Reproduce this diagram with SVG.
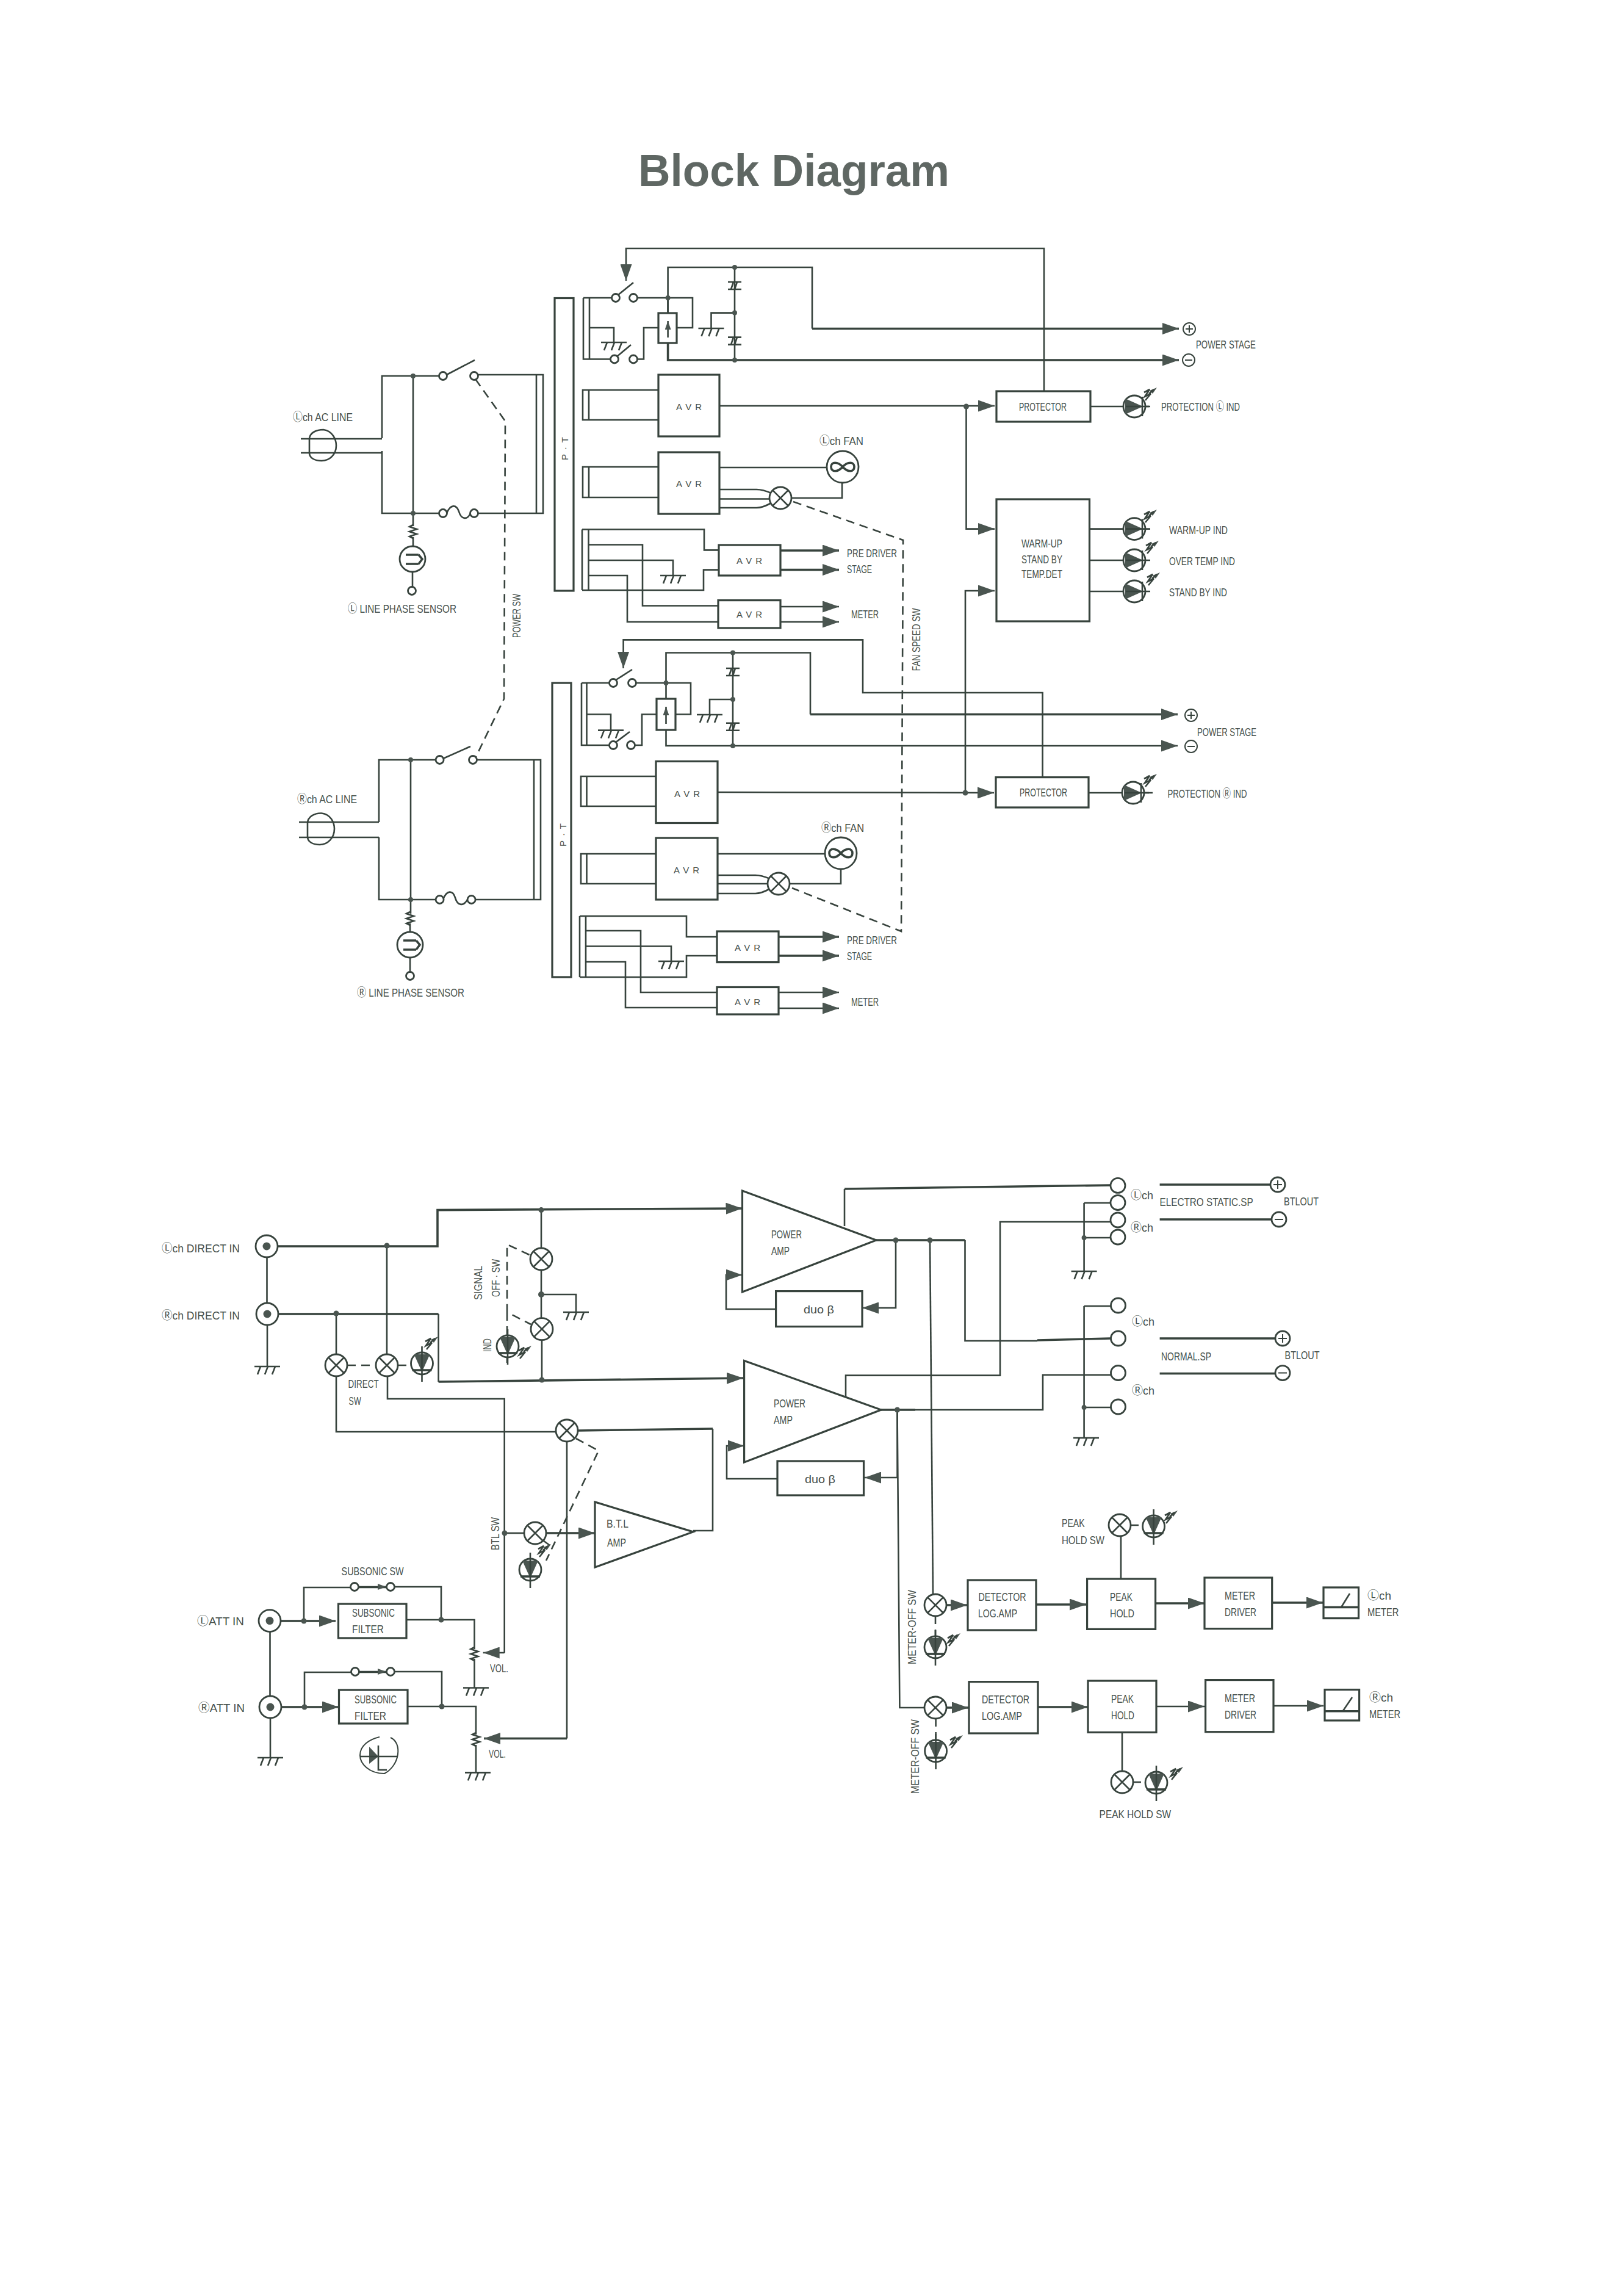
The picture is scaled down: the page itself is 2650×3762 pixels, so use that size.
<svg xmlns="http://www.w3.org/2000/svg" width="2650" height="3762" viewBox="0 0 2650 3762">
<style>
text{font-family:"Liberation Sans","Noto Sans CJK JP",sans-serif;font-size:19px;fill:#46504b;dominant-baseline:central}
.v{text-anchor:middle}
.sm{font-size:15px}
.title{font-size:75px;font-weight:bold;fill:#5f6763;dominant-baseline:auto}
.b{fill:#fff;stroke:#37433d;stroke-width:3.2}
.p{fill:none;stroke:#37433d;stroke-width:2.6}
.t{fill:none;stroke:#37433d;stroke-width:3.6}
.a{marker-end:url(#ah)}
.s{marker-end:url(#as)}
.d{fill:none;stroke:#37433d;stroke-width:2.6;stroke-dasharray:14 9}
.c{fill:#fff;stroke:#37433d;stroke-width:2.8}
.f{fill:#4a5550;stroke:none}
.j{fill:#4a5550}
</style>
<defs>
<marker id="ah" markerUnits="userSpaceOnUse" markerWidth="27" markerHeight="19" viewBox="0 0 27 19" refX="27" refY="9.5" orient="auto"><path d="M0 0L27 9.5L0 19Z" fill="#4a5550"/></marker>
<marker id="as" markerUnits="userSpaceOnUse" markerWidth="14" markerHeight="10" viewBox="0 0 14 10" refX="14" refY="5" orient="auto"><path d="M0 0L14 5L0 10Z" fill="#4a5550"/></marker>
<g id="gnd"><path class="p" d="M-21 0H21M-11 0L-16 13M1 0L-4 13M13 0L8 13"/></g>
<g id="lamp"><circle class="c" r="18"/><path class="p" d="M-12.500 -12.500L12.500 12.500M12.500 -12.500L-12.500 12.500"/></g>
<g id="zz"><path class="p" d="M0 -9L9 -14L1 -2L11 -7L2 4"/><path class="f" d="M21 -17L9 -12L14 -7Z"/><path class="p" d="M8 -7L16 -14"/></g>
<g id="ledr"><circle class="c" r="18"/><path class="f" d="M-15 -13L14 0L-15 13Z"/><path class="p" d="M-14 0H26M13 -16V16"/></g>
<g id="ledd"><circle class="c" r="18"/><path class="f" d="M-13 -15L0 14L13 -15Z"/><path class="p" d="M0 -28V30"/><path class="t" d="M-16 11H16"/></g>
<g id="term"><circle class="c" r="6.500"/></g>
<g id="big"><circle class="c" r="12"/></g>
<g id="cap"><path class="p" d="M-11 -6H11M-11 6H11M-6 6L-2 -6M0 6L4 -6"/></g>
<g id="res"><path class="p" d="M0 -11L-6 -8L6 -4L-6 0L6 4L-6 8L0 11"/></g>
<g id="fan"><circle class="c" r="26"/><path class="t" d="M0 0C-8 -9 -19 -9 -19 0C-19 9 -8 9 0 0C8 -9 19 -9 19 0C19 9 8 9 0 0Z"/></g>
<g id="jack"><circle class="c" r="18"/><circle class="j" r="6.500"/></g>
<g id="neon"><circle class="c" r="21"/><path class="t" d="M-11 -7H10M-11 8H10M10 -7L16 0L10 8"/></g>
</defs>
<rect width="2650" height="3762" fill="#fff"/>
<text id="title" class="title" x="1046" y="305" textLength="510" lengthAdjust="spacingAndGlyphs">Block Diagram</text>

<g id="connectors">
<!-- L power supply -->
<path class="p" d="M1711 641V407H1026V460" style="marker-end:url(#ah)"/>
<path class="p" d="M956 488H1003M1044 488H1135V537H1109M1012 484L1038 463M956 488V588.500H1001M966 488V588.500M1094.600 488V513"/>
<path class="p" d="M1010 585L1034 565M1044 588.500H1055V537H1079M966 537H1006V561"/>
<path class="p" d="M1094.600 513V438H1331V538.500"/>
<path class="t a" d="M1331 538.500H1932"/>
<path class="t a" d="M1094.600 562V590H1932"/>
<path class="p" d="M1204 438V590M1204 512.600H1165.500V538"/>
<path class="p" d="M1079 639H955V688H1079M965 639V688"/>
<path class="p a" d="M1179 665H1630"/>
<path class="p a" d="M1583.500 666V866.600H1630"/>
<path class="p" d="M1787 666H1883M1785 866.600H1842M1785 918H1842M1785 969H1842"/>
<path class="p" d="M1079 765H955V815H1079M965 765V815M1179 766H1355M1380 791V816H1298"/>
<path class="p" d="M1179 802H1240Q1250 802 1264 808M1179 817.500H1260M1179 832H1240Q1250 832 1264 824"/>
<path class="d" d="M1300 822L1480 885L1477 1526L1298 1455"/>
<path class="p" d="M954 867.500H1154V901.400H1178M954 967H1153V933.600H1178M954 867.500V967M964.500 867.500V967"/>
<path class="p" d="M964.500 892.500H1053V992.500H1177M964.500 918H1103V943M964.500 943H1028V1019H1177"/>
<path class="t a" d="M1279 902H1375"/><path class="t a" d="M1279 933.600H1375"/>
<path class="p a" d="M1279 994H1375"/><path class="p a" d="M1279 1019H1375"/>
<!-- R power supply -->
<path class="p" d="M1708.600 1273.600V1135H1414V1048.400H1021.600V1095" style="marker-end:url(#ah)"/>
<path class="p" d="M1091.500 1145V1069.500H1328V1170.500"/>
<path class="t a" d="M1328 1170.500H1930"/>
<path class="p a" d="M1091.500 1196V1222H1930"/>
<path class="p" d="M1201 1069.500V1222M1201 1146H1163V1171"/>
<path class="p" d="M953 1119H999M953 1119V1221H999M961.500 1119V1221M1042 1119H1132V1170.500H1107M1040 1221H1052V1170.500H1076M961.500 1170.500H1001V1196.600"/>
<path class="p" d="M1008 1115L1036 1097M1008 1217L1032 1199"/>
<path class="p" d="M1075 1272H952V1321H1075M961.500 1272V1321"/>
<path class="p a" d="M1176 1298L1629 1299"/>
<path class="p a" d="M1582 1299V968H1630"/>
<path class="p" d="M1784 1299H1889"/>
<path class="p" d="M1075 1399H952V1448H1075M961.500 1399V1448M1176 1399H1352M1378 1424V1448H1295"/>
<path class="p" d="M1176 1434H1238Q1248 1434 1262 1440M1176 1448H1257M1176 1464H1238Q1248 1464 1262 1456"/>
<path class="p" d="M950 1501H1125V1535H1175M950 1601H1125V1566H1175M950 1501V1601M960 1501V1601"/>
<path class="p" d="M960 1525H1050V1626H1175M960 1550.500H1100V1575M960 1576H1025V1651H1175"/>
<path class="t a" d="M1276 1535H1375"/><path class="t a" d="M1276 1566H1375"/>
<path class="p a" d="M1276 1626H1375"/><path class="p a" d="M1276 1652H1375"/>
<!-- AC lines -->
<path class="p" d="M626 718V616H720M783 614H890V841H783M720 841H626V739M879 614V841M493 719H626M493 742H626M677 616V862M677 880V895M676 937V962"/>
<path class="p" d="M732 614L778 590M732 841C738 826 748 826 752 838C756 852 766 852 771 841"/>
<path class="p" d="M621 1347V1245H714M781 1245H886V1474H779M714 1474H621V1372M875 1245V1474M490 1347H621M490 1372H621M673 1245V1497M672 1513V1527M672 1569V1593"/>
<path class="p" d="M726 1243L771 1223M726 1474C732 1458 742 1458 746 1471C750 1485 760 1485 766 1474"/>
<path class="d" d="M779 621L828 690L826 1145L779 1242"/>
<!-- direct inputs -->
<path class="t a" d="M437 2042H717V1982.600L1216.500 1980"/>
<path class="p" d="M437.500 2060V2135M438 2170V2239"/>
<path class="t" d="M438 2153H718.600"/>
<path class="p" d="M718.600 2153V2264"/>
<path class="t a" d="M718.600 2264L1218 2258"/>
<path class="p" d="M634 2041V2219M635 2255V2292H826.700V2708"/>
<path class="p a" d="M826.700 2708H791.700"/>
<path class="p" d="M551 2152V2219M551 2255V2346H911"/>
<path class="t" d="M947 2344L1168 2341"/>
<path class="p" d="M1168 2341V2508H1136"/>
<path class="p" d="M929 2362V2848.500"/>
<path class="t a" d="M929 2848.500H793"/>
<path class="p" d="M827 2512H859"/>
<path class="t a" d="M895 2512H975"/>
<path class="p" d="M887 1982.600V2046M887 2080V2160M888 2195V2262M887 2121H944V2150"/>
<path class="d" d="M867.500 2056L831 2039V2150L870 2170M831 2150V2237"/>
<path class="d" d="M944 2357L981 2377L895 2557"/>
<path class="d" d="M569 2237H616M652 2237H674M890 2524L905 2535"/>
<!-- power amps -->
<path class="p" d="M1384 2009V1948"/><path class="t" d="M1384 1948L1820 1942"/>
<path class="t" d="M1436 2032H1581.500"/>
<path class="p" d="M1581.500 2032V2197H1700"/><path class="t" d="M1700 2196L1820 2193"/>
<path class="p a" d="M1468 2032V2143H1413"/>
<path class="p a" d="M1271.600 2145H1190V2089H1216.500"/>
<path class="p" d="M1524 2032L1529 2613"/>
<path class="p" d="M1386 2288V2253.600H1639V2002H1820"/>
<path class="t" d="M1444 2310H1500"/><path class="p" d="M1500 2310H1709V2252.700H1820"/>
<path class="p a" d="M1470.500 2310V2421H1417"/>
<path class="p" d="M1470.500 2310L1474.400 2798H1516"/>
<path class="p a" d="M1274 2423H1191V2369H1219.600"/>
<path class="p" d="M1776.600 1971V2083M1776.600 1971H1820M1776.600 2028H1820M1776.600 2140V2356M1776.600 2140H1820M1776.600 2306H1820"/>
<path class="t" d="M1900.600 1941H2082M1900.600 1998H2084M1900.600 2193H2090M1900.600 2250.500H2090"/>
<!-- subsonic -->
<path class="t a" d="M460 2656H550"/>
<path class="p" d="M498 2656V2601H575M587 2601H634M646 2600H723V2654M666 2654H777.500V2702M777.500 2718V2765.500"/>
<path class="p s" d="M588 2600H633"/>
<path class="t a" d="M461 2797H555"/>
<path class="p" d="M499 2797V2740H576M588 2740H634M646 2739H724V2796M668 2796H780V2842M780 2859V2904.400M442.500 2673V2780M443 2815V2880"/>
<path class="p s" d="M589 2739H633"/>
<!-- meters -->
<path class="t a" d="M1550 2630H1585"/><path class="t a" d="M1551 2798H1587"/>
<path class="t a" d="M1698 2629H1780"/><path class="t a" d="M1893 2627H1974"/><path class="t a" d="M2085 2626H2168"/>
<path class="t a" d="M1701 2797H1782.700"/><path class="p a" d="M1895 2796H1974"/><path class="p a" d="M2087 2795H2169"/>
<path class="p" d="M1837 2516V2587M1839 2838.500V2902"/>
<path class="d" d="M1852 2499H1873M1533 2647V2682M1533.600 2815V2852M1856 2920H1877"/>
<!-- junctions -->
<g class="j">
<circle cx="1094.600" cy="488" r="4"/><circle cx="1204" cy="438" r="4"/><circle cx="1204" cy="512.600" r="4"/><circle cx="1204" cy="590" r="4"/>
<circle cx="1583.500" cy="666" r="4.500"/><circle cx="1582" cy="1299" r="4.500"/><circle cx="1091.500" cy="1119" r="4"/><circle cx="1201" cy="1069.500" r="4"/><circle cx="1201" cy="1146" r="4"/><circle cx="1201" cy="1222" r="4"/>
<circle cx="677" cy="616" r="4"/><circle cx="677" cy="841" r="4"/><circle cx="673" cy="1245" r="4"/><circle cx="673" cy="1474" r="4"/>
<circle cx="634" cy="2041" r="4.500"/><circle cx="551" cy="2152" r="4.500"/><circle cx="887" cy="1982.600" r="4.500"/><circle cx="887" cy="2121" r="5"/><circle cx="888" cy="2261" r="4.500"/><circle cx="827" cy="2512" r="4.500"/>
<circle cx="1468" cy="2032" r="4.500"/><circle cx="1524" cy="2032" r="4.500"/><circle cx="1470.500" cy="2310" r="4.500"/><circle cx="1776.600" cy="2028" r="4"/><circle cx="1776.600" cy="2306" r="4"/>
<circle cx="498" cy="2656" r="4.500"/><circle cx="499" cy="2797" r="4.500"/><circle cx="723" cy="2654" r="4.500"/><circle cx="724" cy="2796" r="4.500"/>
</g>
</g>

<g id="pt-l"><rect class="b" x="909" y="488.500" width="31" height="479.500"/><text class="v sm" transform="translate(925 735) rotate(-90)" textLength="38" lengthAdjust="spacing">P · T</text></g>
<g id="pt-r"><rect class="b" x="905" y="1119" width="31" height="482"/><text class="v sm" transform="translate(922 1368) rotate(-90)" textLength="38" lengthAdjust="spacing">P · T</text></g>

<g id="relay-l"><rect class="b" x="1079" y="513" width="30" height="49"/><path class="p" d="M1094.600 553V526" style="marker-end:url(#as)"/></g>
<g id="relay-r"><rect class="b" x="1076" y="1145" width="31" height="51"/><path class="p" d="M1091.500 1186V1158" style="marker-end:url(#as)"/></g>
<g id="sw-l"><use href="#term" x="1009" y="488"/><use href="#term" x="1038" y="488"/><use href="#term" x="1007" y="588.500"/><use href="#term" x="1038" y="588.500"/></g>
<g id="sw-r"><use href="#term" x="1005" y="1119"/><use href="#term" x="1036" y="1119"/><use href="#term" x="1005" y="1221"/><use href="#term" x="1034" y="1221"/></g>
<g id="caps"><use href="#cap" x="1204" y="468"/><use href="#cap" x="1204" y="558.600"/><use href="#cap" x="1201" y="1101"/><use href="#cap" x="1201" y="1190.700"/></g>
<g id="grounds">
<use href="#gnd" x="1165.500" y="538"/><use href="#gnd" x="1006" y="561"/><use href="#gnd" x="1103" y="943"/><use href="#gnd" x="1163" y="1171"/><use href="#gnd" x="1001" y="1196.600"/><use href="#gnd" x="1100" y="1575"/>
<use href="#gnd" x="438" y="2239"/><use href="#gnd" x="944" y="2150"/><use href="#gnd" x="1776.600" y="2083"/><use href="#gnd" x="1780" y="2356"/><use href="#gnd" x="443" y="2880"/><use href="#gnd" x="780" y="2765.500"/><use href="#gnd" x="783" y="2904.400"/>
</g>

<g id="avr-l1"><rect class="b" x="1079" y="614" width="100" height="101"/><text class="sm" x="1108" y="666" textLength="42" lengthAdjust="spacing">A V R</text></g>
<g id="avr-l2"><rect class="b" x="1079" y="741" width="100" height="101"/><text class="sm" x="1108" y="792" textLength="42" lengthAdjust="spacing">A V R</text></g>
<g id="avr-l3"><rect class="b" x="1178" y="893" width="101" height="50"/><text class="sm" x="1207" y="918" textLength="42" lengthAdjust="spacing">A V R</text></g>
<g id="avr-l4"><rect class="b" x="1177" y="983.600" width="102" height="45.400"/><text class="sm" x="1207" y="1006" textLength="42" lengthAdjust="spacing">A V R</text></g>
<g id="avr-r1"><rect class="b" x="1075" y="1247.500" width="101" height="101"/><text class="sm" x="1105" y="1300" textLength="42" lengthAdjust="spacing">A V R</text></g>
<g id="avr-r2"><rect class="b" x="1075" y="1373" width="101" height="101"/><text class="sm" x="1104" y="1425" textLength="42" lengthAdjust="spacing">A V R</text></g>
<g id="avr-r3"><rect class="b" x="1175" y="1526" width="101" height="50.600"/><text class="sm" x="1204" y="1552" textLength="42" lengthAdjust="spacing">A V R</text></g>
<g id="avr-r4"><rect class="b" x="1175" y="1617.500" width="101" height="44.500"/><text class="sm" x="1204" y="1641" textLength="42" lengthAdjust="spacing">A V R</text></g>

<g id="protector-l"><rect class="b" x="1633" y="641" width="154" height="50"/><text x="1670" y="666" textLength="78" lengthAdjust="spacingAndGlyphs">PROTECTOR</text></g>
<g id="protector-r"><rect class="b" x="1632" y="1273.600" width="152" height="49.400"/><text x="1671" y="1298" textLength="78" lengthAdjust="spacingAndGlyphs">PROTECTOR</text></g>
<g id="warmup"><rect class="b" x="1633" y="818" width="152.500" height="200"/><text x="1674" y="890" textLength="67" lengthAdjust="spacingAndGlyphs">WARM-UP</text><text x="1674" y="916" textLength="67" lengthAdjust="spacingAndGlyphs">STAND BY</text><text x="1674" y="940" textLength="67" lengthAdjust="spacingAndGlyphs">TEMP.DET</text></g>

<g id="led-prot-l"><use href="#ledr" x="1859" y="666"/><use href="#zz" x="1875" y="652"/><text x="1903" y="666" textLength="129" lengthAdjust="spacingAndGlyphs">PROTECTION Ⓛ IND</text></g>
<g id="led-prot-r"><use href="#ledr" x="1857" y="1299"/><use href="#zz" x="1875" y="1285"/><text x="1913.500" y="1300" textLength="130" lengthAdjust="spacingAndGlyphs">PROTECTION Ⓡ IND</text></g>
<g id="led-warm"><use href="#ledr" x="1859" y="866.600"/><use href="#zz" x="1875" y="852"/><text x="1916" y="868" textLength="96" lengthAdjust="spacingAndGlyphs">WARM-UP IND</text></g>
<g id="led-temp"><use href="#ledr" x="1859" y="918"/><use href="#zz" x="1878" y="903"/><text x="1916" y="919" textLength="108" lengthAdjust="spacingAndGlyphs">OVER TEMP IND</text></g>
<g id="led-stby"><use href="#ledr" x="1859" y="969"/><use href="#zz" x="1880" y="955"/><text x="1916" y="970" textLength="95" lengthAdjust="spacingAndGlyphs">STAND BY IND</text></g>

<g id="fan-l"><use href="#fan" x="1381" y="765"/><text x="1343" y="722" textLength="72" lengthAdjust="spacingAndGlyphs">Ⓛch FAN</text></g>
<g id="fan-r"><use href="#fan" x="1378" y="1398"/><text x="1346" y="1356.500" textLength="70" lengthAdjust="spacingAndGlyphs">Ⓡch FAN</text></g>
<g id="lamp-fan-l"><use href="#lamp" x="1279" y="816"/></g>
<g id="lamp-fan-r"><use href="#lamp" x="1276" y="1448"/></g>

<g id="labels-psu">
<text x="1960" y="564" textLength="98" lengthAdjust="spacingAndGlyphs">POWER STAGE</text>
<text x="1962" y="1199" textLength="97" lengthAdjust="spacingAndGlyphs">POWER STAGE</text>
<text x="1388" y="906" textLength="82" lengthAdjust="spacingAndGlyphs">PRE DRIVER</text>
<text x="1388" y="932" textLength="41" lengthAdjust="spacingAndGlyphs">STAGE</text>
<text x="1395" y="1006" textLength="45" lengthAdjust="spacingAndGlyphs">METER</text>
<text x="1388" y="1540" textLength="82" lengthAdjust="spacingAndGlyphs">PRE DRIVER</text>
<text x="1388" y="1566" textLength="41" lengthAdjust="spacingAndGlyphs">STAGE</text>
<text x="1395" y="1641" textLength="45" lengthAdjust="spacingAndGlyphs">METER</text>
<text class="v" transform="translate(1501 1048) rotate(-90)" textLength="103" lengthAdjust="spacingAndGlyphs">FAN SPEED SW</text>
<text class="v" transform="translate(846.600 1009) rotate(-90)" textLength="72" lengthAdjust="spacingAndGlyphs">POWER SW</text>
<text x="480" y="683.600" textLength="98" lengthAdjust="spacingAndGlyphs">Ⓛch AC LINE</text>
<text x="487" y="1309" textLength="98" lengthAdjust="spacingAndGlyphs">Ⓡch AC LINE</text>
<text x="570" y="997" textLength="178" lengthAdjust="spacingAndGlyphs">Ⓛ LINE PHASE SENSOR</text>
<text x="585" y="1626" textLength="176" lengthAdjust="spacingAndGlyphs">Ⓡ LINE PHASE SENSOR</text>
</g>
<g id="terminals-psu">
<g stroke="#37433d" fill="#fff" stroke-width="2"><circle cx="1949" cy="539" r="10"/><circle cx="1948" cy="590" r="10"/><circle cx="1952" cy="1172" r="10"/><circle cx="1952" cy="1223" r="10"/></g>
<path class="p" style="stroke-width:2" d="M1943 539H1955M1949 533V545M1942 590H1954M1946 1172H1958M1952 1166V1178M1946 1223H1958"/>
</g>

<g id="ac-l">
<use href="#term" x="726" y="616"/><use href="#term" x="777" y="616"/><use href="#term" x="726" y="841"/><use href="#term" x="777" y="841"/><use href="#term" x="675" y="968"/>
<use href="#res" x="677" y="871"/><use href="#neon" x="676" y="916"/>
<path class="p" d="M507 720C507 708 520 704 530 704C545 706 551 720 551 730C551 745 540 755 527 755C515 755 507 750 507 742Z"/>
</g>
<g id="ac-r">
<use href="#term" x="720.600" y="1245"/><use href="#term" x="775" y="1245"/><use href="#term" x="720.600" y="1474"/><use href="#term" x="772.600" y="1474"/><use href="#term" x="672" y="1599"/>
<use href="#res" x="672" y="1505"/><use href="#neon" x="672" y="1548"/>
<path class="p" d="M504 1349C504 1337 517 1332 527 1332.500C542 1334 548 1348 548 1358C548 1373 537 1384 524 1384C512 1384 504 1379 504 1371Z"/>
</g>

<g id="direct-l"><use href="#jack" x="437" y="2042"/><text x="265" y="2045" textLength="128" lengthAdjust="spacingAndGlyphs">Ⓛch DIRECT IN</text></g>
<g id="direct-r"><use href="#jack" x="438" y="2153"/><text x="265" y="2155" textLength="128" lengthAdjust="spacingAndGlyphs">Ⓡch DIRECT IN</text></g>
<g id="direct-sw"><use href="#lamp" x="551" y="2237"/><use href="#lamp" x="634" y="2237"/><use href="#ledd" x="691.500" y="2234"/><use href="#zz" x="697" y="2207"/><text x="570.600" y="2267" textLength="50" lengthAdjust="spacingAndGlyphs">DIRECT</text><text x="571.600" y="2295" textLength="20" lengthAdjust="spacingAndGlyphs">SW</text></g>
<g id="signal-sw"><use href="#lamp" x="887" y="2063"/><use href="#lamp" x="888" y="2177.700"/><use href="#ledd" x="832" y="2206"/><use href="#zz" x="850" y="2222"/>
<text class="v" transform="translate(783 2102) rotate(-90)" textLength="56" lengthAdjust="spacingAndGlyphs">SIGNAL</text>
<text class="v" transform="translate(812.500 2094) rotate(-90)" textLength="62" lengthAdjust="spacingAndGlyphs">OFF · SW</text>
<text class="v" transform="translate(798.700 2204) rotate(-90)" textLength="22" lengthAdjust="spacingAndGlyphs">IND</text></g>
<g id="lamp-btl-direct"><use href="#lamp" x="929" y="2344"/></g>
<g id="btl-sw"><use href="#lamp" x="877" y="2512"/><use href="#ledd" x="869" y="2572"/><use href="#zz" x="882" y="2547"/><text class="v" transform="translate(811.600 2513) rotate(-90)" textLength="54" lengthAdjust="spacingAndGlyphs">BTL SW</text></g>
<g id="btl-amp"><path class="b" d="M975 2461V2568L1136 2510Z"/><text x="994" y="2496" textLength="36" lengthAdjust="spacingAndGlyphs">B.T.L</text><text x="995" y="2527" textLength="31" lengthAdjust="spacingAndGlyphs">AMP</text></g>

<g id="amp-1"><path class="b" d="M1216.500 1951V2117L1436 2032Z"/><text x="1264" y="2022" textLength="50" lengthAdjust="spacingAndGlyphs">POWER</text><text x="1264" y="2049.500" textLength="30" lengthAdjust="spacingAndGlyphs">AMP</text></g>
<g id="amp-2"><path class="b" d="M1219.600 2229.500V2396L1444 2310Z"/><text x="1268" y="2299" textLength="52" lengthAdjust="spacingAndGlyphs">POWER</text><text x="1268" y="2326" textLength="31" lengthAdjust="spacingAndGlyphs">AMP</text></g>
<g id="duo-1"><rect class="b" x="1271.600" y="2115.600" width="141.400" height="58"/><text x="1317" y="2145" textLength="50" lengthAdjust="spacingAndGlyphs">duo β</text></g>
<g id="duo-2"><rect class="b" x="1274" y="2394" width="141.500" height="56"/><text x="1319" y="2423" textLength="50" lengthAdjust="spacingAndGlyphs">duo β</text></g>

<g id="sp-electro">
<use href="#big" x="1832" y="1942.400"/><use href="#big" x="1832" y="1970.500"/><use href="#big" x="1832" y="1999"/><use href="#big" x="1832" y="2027"/>
<use href="#big" x="2094" y="1941"/><use href="#big" x="2096" y="1998"/>
<path class="p" style="stroke-width:2" d="M2087 1941H2101M2094 1934V1948M2089 1998H2103"/>
<text x="1853" y="1958" textLength="37" lengthAdjust="spacingAndGlyphs">Ⓛch</text><text x="1853" y="2011.600" textLength="37" lengthAdjust="spacingAndGlyphs">Ⓡch</text>
<text x="1900.600" y="1969" textLength="153" lengthAdjust="spacingAndGlyphs">ELECTRO STATIC.SP</text><text x="2104" y="1968" textLength="57" lengthAdjust="spacingAndGlyphs">BTLOUT</text>
</g>
<g id="sp-normal">
<use href="#big" x="1832.500" y="2139"/><use href="#big" x="1832.500" y="2193"/><use href="#big" x="1832.500" y="2249.500"/><use href="#big" x="1832.500" y="2305"/>
<use href="#big" x="2102" y="2193"/><use href="#big" x="2102" y="2249.600"/>
<path class="p" style="stroke-width:2" d="M2095 2193H2109M2102 2186V2200M2095 2249.600H2109"/>
<text x="1855" y="2165.600" textLength="37" lengthAdjust="spacingAndGlyphs">Ⓛch</text><text x="1855" y="2278" textLength="37" lengthAdjust="spacingAndGlyphs">Ⓡch</text>
<text x="1903" y="2222" textLength="82" lengthAdjust="spacingAndGlyphs">NORMAL.SP</text><text x="2105.600" y="2220" textLength="57" lengthAdjust="spacingAndGlyphs">BTLOUT</text>
</g>

<g id="sub-l"><use href="#jack" x="442" y="2655.600"/><rect class="b" x="554.500" y="2628" width="111.500" height="56"/><text x="577" y="2642" textLength="70" lengthAdjust="spacingAndGlyphs">SUBSONIC</text><text x="577" y="2669" textLength="52" lengthAdjust="spacingAndGlyphs">FILTER</text><use href="#term" x="581" y="2600"/><use href="#term" x="640" y="2600"/><use href="#res" x="777.500" y="2710"/><text x="323" y="2656" textLength="77" lengthAdjust="spacingAndGlyphs">ⓁATT IN</text><text x="559.600" y="2574" textLength="102" lengthAdjust="spacingAndGlyphs">SUBSONIC SW</text><text x="803" y="2733" textLength="30" lengthAdjust="spacingAndGlyphs">VOL.</text></g>
<g id="sub-r"><use href="#jack" x="443" y="2797"/><rect class="b" x="555.500" y="2769" width="112.500" height="55"/><text x="581" y="2784" textLength="69" lengthAdjust="spacingAndGlyphs">SUBSONIC</text><text x="581" y="2811" textLength="52" lengthAdjust="spacingAndGlyphs">FILTER</text><use href="#term" x="582" y="2739"/><use href="#term" x="640" y="2739"/><use href="#res" x="780" y="2850"/><text x="325" y="2798" textLength="76" lengthAdjust="spacingAndGlyphs">ⓇATT IN</text><text x="801" y="2873" textLength="28" lengthAdjust="spacingAndGlyphs">VOL.</text></g>
<g id="stamp"><path class="p" style="stroke-width:2" d="M640 2847C660 2856 655 2893 630 2906C605 2906 590 2890 590 2876C590 2860 605 2850 622 2846"/><path class="f" d="M605 2862L620 2878L605 2890Z"/><path class="p" d="M590 2878H652M620 2860V2900H634"/></g>

<g id="meter-l">
<use href="#lamp" x="1533" y="2630"/><use href="#ledd" x="1533" y="2699"/><use href="#zz" x="1553" y="2693"/>
<text class="v" transform="translate(1494.500 2666) rotate(-90)" textLength="122" lengthAdjust="spacingAndGlyphs">METER-OFF SW</text>
<rect class="b" x="1586" y="2589" width="112" height="82"/><text x="1603.600" y="2616" textLength="78" lengthAdjust="spacingAndGlyphs">DETECTOR</text><text x="1603" y="2643.500" textLength="64" lengthAdjust="spacingAndGlyphs">LOG.AMP</text>
<rect class="b" x="1781.600" y="2587" width="112" height="82.400"/><text x="1819" y="2616.500" textLength="37" lengthAdjust="spacingAndGlyphs">PEAK</text><text x="1819" y="2643.500" textLength="40" lengthAdjust="spacingAndGlyphs">HOLD</text>
<rect class="b" x="1974" y="2585" width="110.700" height="83.600"/><text x="2007" y="2614.600" textLength="50" lengthAdjust="spacingAndGlyphs">METER</text><text x="2007" y="2641.600" textLength="52" lengthAdjust="spacingAndGlyphs">DRIVER</text>
<rect class="b" x="2169" y="2601" width="57.500" height="50.600"/><path class="t" d="M2169 2633.500H2226"/><path class="p" d="M2198 2633.500L2212 2611"/>
<text x="2241" y="2614" textLength="39" lengthAdjust="spacingAndGlyphs">Ⓛch</text><text x="2241" y="2641.600" textLength="51.500" lengthAdjust="spacingAndGlyphs">METER</text>
<use href="#lamp" x="1835" y="2499"/><use href="#ledd" x="1890.600" y="2501"/><use href="#zz" x="1909" y="2492"/>
<text x="1740" y="2495" textLength="37.600" lengthAdjust="spacingAndGlyphs">PEAK</text><text x="1740" y="2523" textLength="70" lengthAdjust="spacingAndGlyphs">HOLD SW</text>
</g>
<g id="meter-r">
<use href="#lamp" x="1533" y="2798"/><use href="#ledd" x="1533.600" y="2869"/><use href="#zz" x="1557" y="2860"/>
<text class="v" transform="translate(1499 2878) rotate(-90)" textLength="122" lengthAdjust="spacingAndGlyphs">METER-OFF SW</text>
<rect class="b" x="1588" y="2755.600" width="113" height="84.400"/><text x="1609" y="2784" textLength="78" lengthAdjust="spacingAndGlyphs">DETECTOR</text><text x="1609" y="2811" textLength="66" lengthAdjust="spacingAndGlyphs">LOG.AMP</text>
<rect class="b" x="1783" y="2754" width="112" height="84.500"/><text x="1821" y="2783" textLength="37" lengthAdjust="spacingAndGlyphs">PEAK</text><text x="1821" y="2810" textLength="38" lengthAdjust="spacingAndGlyphs">HOLD</text>
<rect class="b" x="1975.600" y="2752.600" width="111.400" height="85.100"/><text x="2007" y="2782" textLength="50" lengthAdjust="spacingAndGlyphs">METER</text><text x="2007" y="2809" textLength="52" lengthAdjust="spacingAndGlyphs">DRIVER</text>
<rect class="b" x="2171" y="2768.500" width="56.600" height="50.500"/><path class="t" d="M2171 2803.700H2227"/><path class="p" d="M2200.600 2803.700L2216 2781"/>
<text x="2244" y="2781" textLength="39" lengthAdjust="spacingAndGlyphs">Ⓡch</text><text x="2244" y="2808" textLength="51" lengthAdjust="spacingAndGlyphs">METER</text>
<use href="#lamp" x="1839" y="2920"/><use href="#ledd" x="1895" y="2921"/><use href="#zz" x="1918" y="2912"/>
<text x="1801.600" y="2972" textLength="117.400" lengthAdjust="spacingAndGlyphs">PEAK HOLD SW</text>
</g>
</svg>
